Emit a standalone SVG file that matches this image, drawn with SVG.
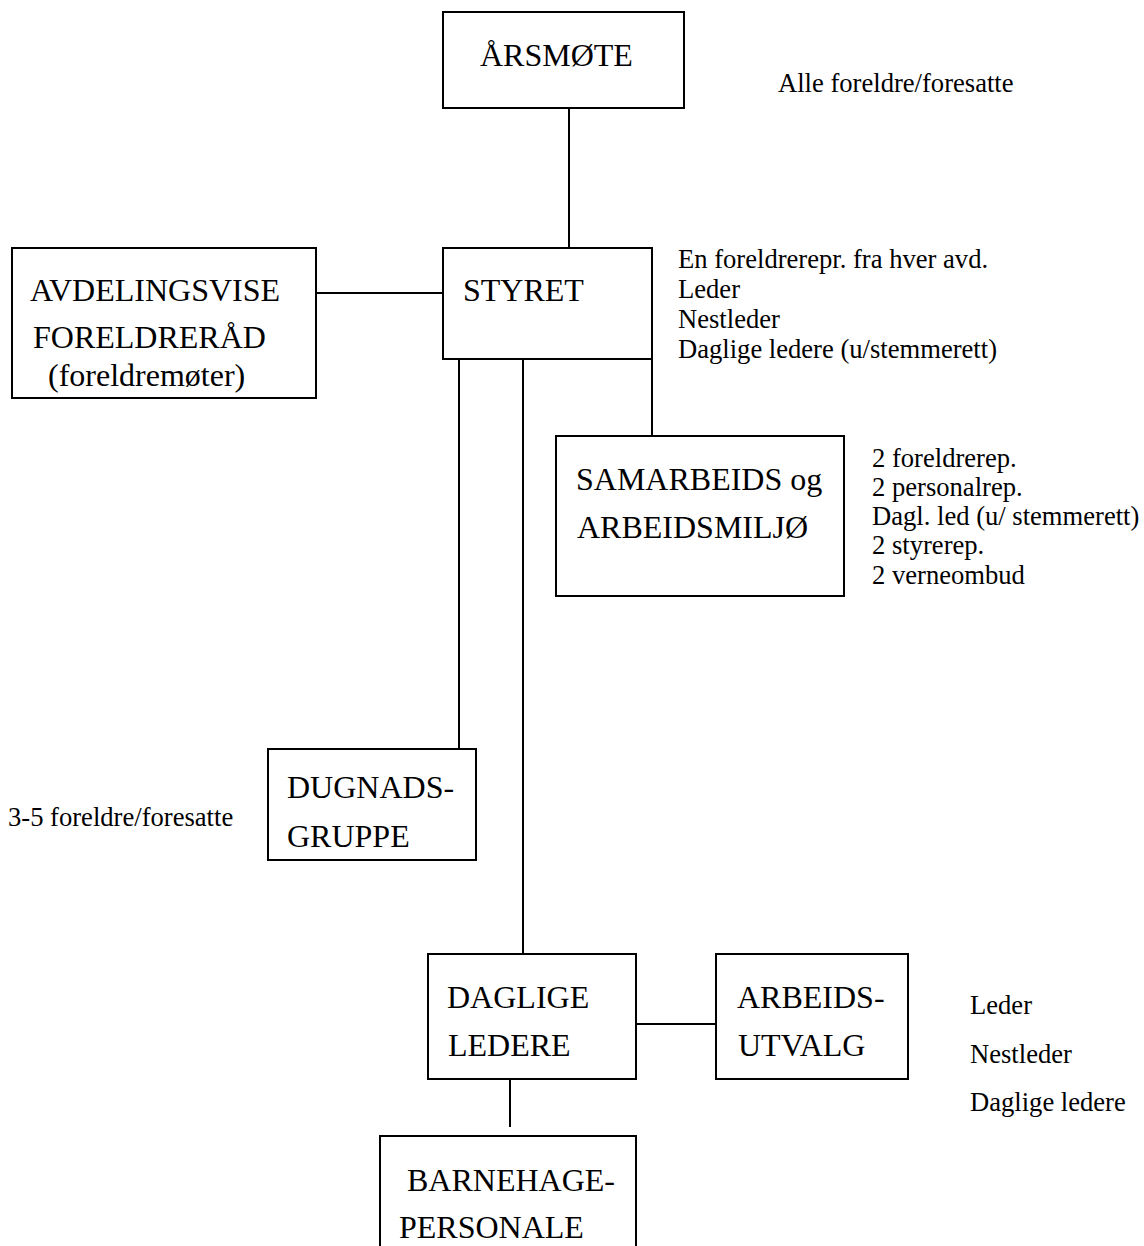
<svg xmlns="http://www.w3.org/2000/svg" width="1144" height="1246" viewBox="0 0 1144 1246">
<style>
rect.box{fill:#fff;stroke:#000;stroke-width:2}
.lbl{font-family:"Liberation Serif","Times New Roman",serif;font-size:32px;fill:#000}
.note{font-family:"Liberation Serif","Times New Roman",serif;font-size:26.6px;fill:#000}
#connectors line{stroke:#000;stroke-width:2}
</style>
<rect width="1144" height="1246" fill="#fff"/>
<g id="connectors">
<line x1="569" y1="108" x2="569" y2="248"/>
<line x1="316" y1="293" x2="443" y2="293"/>
<line x1="459" y1="359" x2="459" y2="749"/>
<line x1="523" y1="359" x2="523" y2="954"/>
<line x1="652" y1="359" x2="652" y2="436"/>
<line x1="636" y1="1024" x2="716" y2="1024"/>
<line x1="510" y1="1079" x2="510" y2="1127"/>
</g>
<g id="arsmote">
<rect class="box" x="443" y="12" width="241" height="96"/>
<text class="lbl" x="480" y="66">ÅRSMØTE</text>
</g>
<text class="note" x="778" y="92">Alle foreldre/foresatte</text>
<g id="styret">
<rect class="box" x="443" y="248" width="209" height="111"/>
<text class="lbl" x="463" y="301">STYRET</text>
</g>
<g class="note">
<text x="678" y="268">En foreldrerepr. fra hver avd.</text>
<text x="678" y="298">Leder</text>
<text x="678" y="328">Nestleder</text>
<text x="678" y="358">Daglige ledere (u/stemmerett)</text>
</g>
<g id="avdelingsvise">
<rect class="box" x="12" y="248" width="304" height="150"/>
<text class="lbl" x="30" y="301">AVDELINGSVISE</text>
<text class="lbl" x="33" y="348">FORELDRERÅD</text>
<text class="lbl" x="48" y="386">(foreldremøter)</text>
</g>
<g id="samarbeids">
<rect class="box" x="556" y="436" width="288" height="160"/>
<text class="lbl" x="576" y="490">SAMARBEIDS og</text>
<text class="lbl" x="577" y="538">ARBEIDSMILJØ</text>
</g>
<g class="note">
<text x="872" y="467">2 foreldrerep.</text>
<text x="872" y="496">2 personalrep.</text>
<text x="872" y="525">Dagl. led (u/ stemmerett)</text>
<text x="872" y="554">2 styrerep.</text>
<text x="872" y="584">2 verneombud</text>
</g>
<g id="dugnad">
<rect class="box" x="268" y="749" width="208" height="111"/>
<text class="lbl" x="287" y="798">DUGNADS-</text>
<text class="lbl" x="287" y="847">GRUPPE</text>
</g>
<text class="note" x="8" y="826">3-5 foreldre/foresatte</text>
<g id="daglige">
<rect class="box" x="428" y="954" width="208" height="125"/>
<text class="lbl" x="447" y="1008">DAGLIGE</text>
<text class="lbl" x="448" y="1056">LEDERE</text>
</g>
<g id="arbeidsutvalg">
<rect class="box" x="716" y="954" width="192" height="125"/>
<text class="lbl" x="737" y="1008">ARBEIDS-</text>
<text class="lbl" x="738" y="1056">UTVALG</text>
</g>
<g class="note">
<text x="970" y="1014">Leder</text>
<text x="970" y="1063">Nestleder</text>
<text x="970" y="1111">Daglige ledere</text>
</g>
<g id="barnehage">
<rect class="box" x="380" y="1136" width="256" height="130"/>
<text class="lbl" x="407" y="1191">BARNEHAGE-</text>
<text class="lbl" x="399" y="1238">PERSONALE</text>
</g>
</svg>
